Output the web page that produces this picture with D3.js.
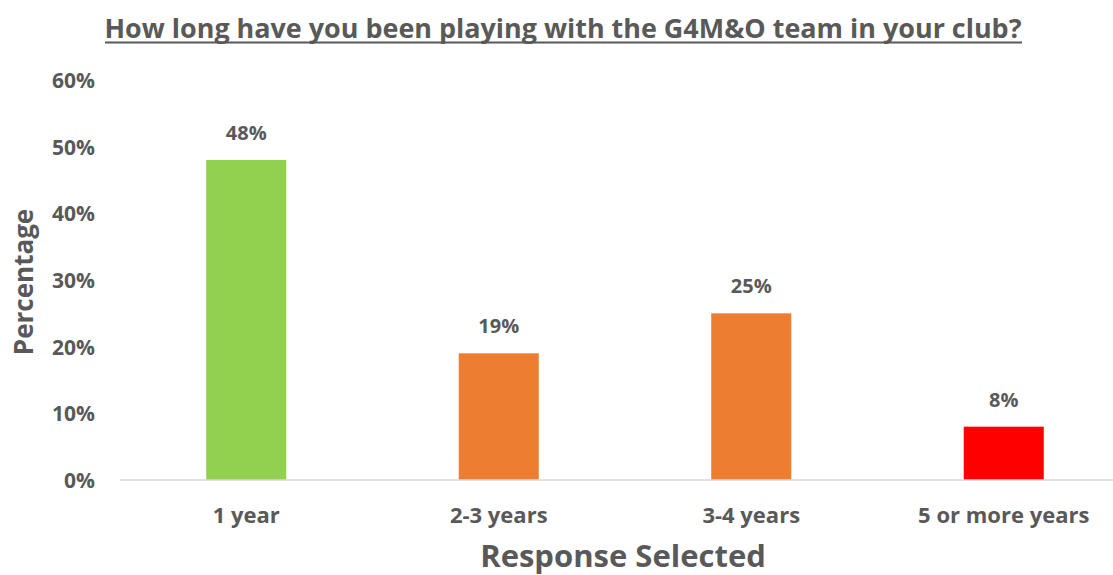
<!DOCTYPE html>
<html><head><meta charset="utf-8">
<script src="https://cdn.jsdelivr.net/npm/d3@7"></script>
<style>body{margin:0;background:#fff}text{font-family:"Open Sans",sans-serif;font-weight:bold;fill:#595959}</style>
</head><body>
<script>
const categories = ["1 year", "2-3 years", "3-4 years", "5 or more years"];
const values = [0.48, 0.19, 0.25, 0.08];
const colors = ["#92D050", "#ED7D31", "#ED7D31", "#FF0000"];
const yTicks = [0, 0.1, 0.2, 0.3, 0.4, 0.5, 0.6];
const title = "How long have you been playing with the G4M&O team in your club?";
const xTitle = "Response Selected";
const yTitle = "Percentage";

const W = 1113, H = 575;
const svg = d3.select("body").append("svg").attr("width", W).attr("height", H);
const x = d3.scaleBand().domain(categories).range([120, 1130]).paddingInner(0.683).paddingOuter(0.3415);
const y = d3.scaleLinear().domain([0, 0.6]).range([480, 80]);

// y tick labels
const yAxis = d3.axisLeft(y).tickValues(yTicks).tickFormat(d3.format(".0%")).tickSize(0).tickPadding(0);
const ga = svg.append("g").attr("transform", "translate(95,0)").call(yAxis);
ga.select(".domain").remove();
ga.selectAll("text").attr("font-size", 21).attr("fill", "#595959").attr("font-family", "Open Sans").attr("font-weight", "bold").attr("dy", "0.35em");

// bars
svg.selectAll("rect.bar").data(values).join("rect").attr("class", "bar")
  .attr("x", (d, i) => x(categories[i])).attr("width", x.bandwidth())
  .attr("y", d => y(d)).attr("height", d => y(0) - y(d)).attr("fill", (d, i) => colors[i]);

// baseline
const xAxis = d3.axisBottom(x).tickSize(0).tickPadding(0);
const gx = svg.append("g").attr("transform", "translate(0,480)").call(xAxis);
gx.select(".domain").attr("stroke", "#d9d9d9").attr("stroke-width", 1.5).attr("d", "M120,0H1113");
gx.selectAll("text").attr("font-size", 22).attr("fill", "#595959").attr("font-family", "Open Sans").attr("font-weight", "bold").attr("y", 35).attr("dy", "0.35em");

// value labels
svg.selectAll("text.val").data(values).join("text").attr("class", "val")
  .attr("x", (d, i) => x(categories[i]) + x.bandwidth() / 2).attr("y", d => y(d) - 27)
  .attr("text-anchor", "middle").attr("dy", "0.35em").attr("font-size", 20)
  .text(d => d3.format(".0%")(d));

// title
svg.append("text").attr("x", 563).attr("y", 38).attr("text-anchor", "middle").attr("font-size", 27)
  .attr("textLength", 917).attr("lengthAdjust", "spacingAndGlyphs").text(title);
svg.append("line").attr("x1", 105).attr("x2", 1022).attr("y1", 42.5).attr("y2", 42.5).attr("stroke", "#595959").attr("stroke-width", 2);

// axis titles
svg.append("text").attr("x", 623).attr("y", 556).attr("text-anchor", "middle").attr("dy", "0.35em").attr("font-size", 31).text(xTitle);
svg.append("text").attr("transform", "translate(24,282) rotate(-90)").attr("text-anchor", "middle").attr("dy", "0.35em").attr("font-size", 26).text(yTitle);
</script>
</body></html>
